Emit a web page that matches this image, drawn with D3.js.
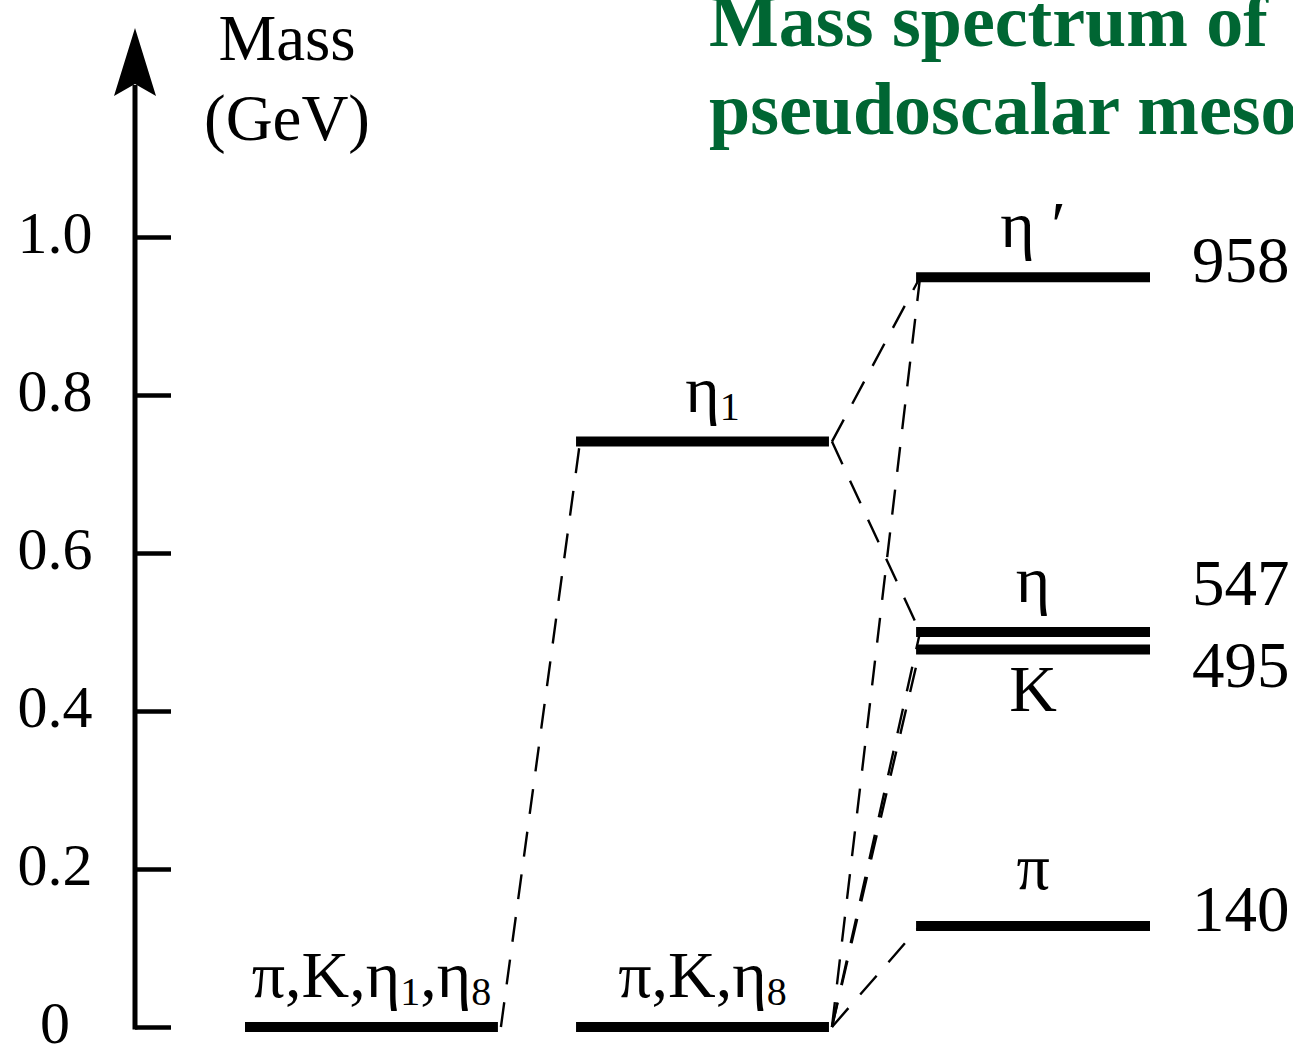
<!DOCTYPE html>
<html lang="en">
<head>
    <meta charset="UTF-8">
    <title>Mass spectrum of pseudoscalar mesons</title>
    <script src="https://d3js.org/d3.v7.min.js"></script>
    <style>
        body {
            margin: 0;
            background: #ffffff;
            overflow: hidden;
        }
        svg {
            display: block;
            font-family: "Liberation Serif", "DejaVu Serif", serif;
        }
        .level {
            stroke: #000;
            stroke-width: 10px;
        }
        .link {
            stroke: #000;
            stroke-width: 2.4px;
            stroke-dasharray: 25 18;
            fill: none;
        }
    </style>
</head>
<body>

<svg id="chart"></svg>

<script>
    const width = 1293, height = 1045;

    // columns of the diagram
    const columns = ["massless", "axial", "physical"];

    // energy levels (mass in GeV)
    const levelIds    = ["free0", "sym0", "eta1", "etaP", "eta", "K", "pi"];
    const levelColumn = ["massless", "axial", "axial", "physical", "physical", "physical", "physical"];
    const levelMass   = [0, 0, 0.741, 0.949, 0.500, 0.478, 0.128];
    const levelLabels = ["π,K,η_1,η_8", "π,K,η_8", "η_1", "η ′", "η", "K", "π"];
    const labelBelow  = [false, false, false, false, false, true, false];
    const levelValues = ["", "", "", "958", "547", "495", "140"];

    // dashed links: right end of one level -> left end of another
    const linkFrom = ["free0", "sym0", "sym0", "sym0", "sym0", "eta1", "eta1"];
    const linkTo   = ["eta1", "etaP", "eta", "K", "pi", "etaP", "eta"];

    const tickValues = [0, 0.2, 0.4, 0.6, 0.8, 1.0];
    const tickLabels = ["0", "0.2", "0.4", "0.6", "0.8", "1.0"];

    const titleLines = ["Mass spectrum of", "pseudoscalar mesons"];

    const y = d3.scaleLinear()
        .domain([0, 1])
        .range([1027, 237]);

    const x = d3.scaleBand()
        .domain(columns)
        .range([245, 1160])
        .paddingInner(0.236);

    // the right-hand column is drawn a little narrower
    const inset = { massless: [0, 0], axial: [0, 0], physical: [9, 10] };
    const left = col => x(col) + inset[col][0];
    const right = col => x(col) + x.bandwidth() - inset[col][1];
    const mid = col => (left(col) + right(col)) / 2;

    const levels = levelIds.map((id, i) => ({
        id: id,
        col: levelColumn[i],
        mass: levelMass[i],
        label: levelLabels[i],
        below: labelBelow[i],
        value: levelValues[i]
    }));
    const byId = {};
    levels.forEach(d => byId[d.id] = d);

    const svg = d3.select("#chart")
        .attr("width", width)
        .attr("height", height);

    // title
    svg.append("g")
        .selectAll("text")
        .data(titleLines)
        .enter().append("text")
        .attr("x", 709)
        .attr("y", (d, i) => 46 + i * 88)
        .attr("font-size", 74)
        .attr("font-weight", "bold")
        .attr("fill", "#006633")
        .style("font-family", "'Liberation Serif', 'Times New Roman', serif")
        .text(d => d);

    // axis
    const axisX = 135;
    const axis = d3.axisLeft(y)
        .tickValues(tickValues)
        .tickFormat((d, i) => tickLabels[i])
        .tickSizeInner(-36)
        .tickSizeOuter(0)
        .tickPadding(80);

    const ax = svg.append("g")
        .attr("transform", `translate(${axisX},0)`)
        .call(axis);
    ax.select(".domain").remove();
    ax.selectAll(".tick line")
        .attr("stroke", "#000")
        .attr("stroke-width", 4.5);
    ax.selectAll(".tick text")
        .attr("font-size", 60)
        .attr("font-family", "'Liberation Serif', serif")
        .attr("fill", "#000")
        .attr("text-anchor", "middle")
        .attr("dy", "0.26em");

    svg.append("line")
        .attr("x1", axisX).attr("x2", axisX)
        .attr("y1", y(0) + 2.5).attr("y2", 85)
        .attr("stroke", "#000")
        .attr("stroke-width", 5);

    svg.append("path")
        .attr("d", `M${axisX},28 L${axisX + 21},96 L${axisX},84 L${axisX - 21},96 Z`)
        .attr("fill", "#000");

    svg.append("text")
        .attr("x", 287).attr("y", 60)
        .attr("text-anchor", "middle")
        .attr("font-size", 65)
        .text("Mass");
    svg.append("text")
        .attr("x", 287).attr("y", 140)
        .attr("text-anchor", "middle")
        .attr("font-size", 65)
        .text("(GeV)");

    // dashed links
    const links = linkFrom.map((f, i) => ({ from: byId[f], to: byId[linkTo[i]] }));
    svg.append("g")
        .selectAll("line")
        .data(links)
        .enter().append("line")
        .attr("class", "link")
        .attr("x1", d => right(d.from.col) + 3)
        .attr("y1", d => y(d.from.mass))
        .attr("x2", d => left(d.to.col) + 4)
        .attr("y2", d => y(d.to.mass));

    // levels
    svg.append("g")
        .selectAll("line")
        .data(levels)
        .enter().append("line")
        .attr("class", "level")
        .attr("x1", d => left(d.col))
        .attr("x2", d => right(d.col))
        .attr("y1", d => y(d.mass))
        .attr("y2", d => y(d.mass));

    // level labels with subscripts
    const lab = svg.append("g")
        .selectAll("text")
        .data(levels)
        .enter().append("text")
        .attr("x", d => mid(d.col) + (d.id === "eta1" ? 10 : 0))
        .attr("y", d => y(d.mass) + (d.below ? 62 : (d.id === "pi" ? -37 : -30)))
        .attr("text-anchor", "middle")
        .attr("font-size", 66);

    lab.each(function(d) {
        const parts = d.label.split(/_(\d)/);
        const t = d3.select(this);
        parts.forEach((p, i) => {
            if (!p) return;
            if (i % 2 === 1) {
                t.append("tspan").attr("font-size", 40).attr("dy", 8).text(p);
            } else {
                t.append("tspan").attr("dy", i > 0 ? -8 : 0).text(p);
            }
        });
    });

    // mass values in MeV
    svg.append("g")
        .selectAll("text")
        .data(levels.filter(d => d.value))
        .enter().append("text")
        .attr("x", right("physical") + 42)
        .attr("y", d => {
            if (d.id === "eta") return y(d.mass) - 27;
            if (d.id === "K") return y(d.mass) + 38;
            return y(d.mass) + 5;
        })
        .attr("font-size", 65)
        .text(d => d.value);
</script>

</body>
</html>
